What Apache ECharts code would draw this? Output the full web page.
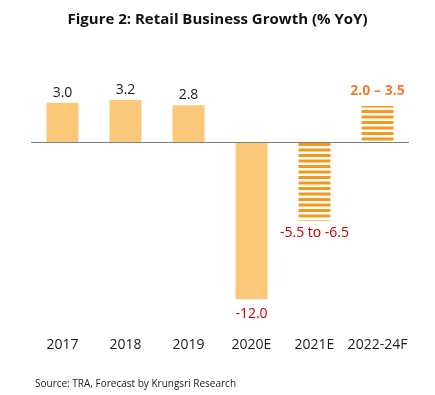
<!DOCTYPE html>
<html>
<head>
<meta charset="utf-8">
<script src="https://cdn.jsdelivr.net/npm/echarts@6/dist/echarts.min.js"></script>
<style>
  html, body { margin: 0; padding: 0; background: #ffffff; }
  #chart { width: 435px; height: 395px; }
</style>
</head>
<body>
<div id="chart"></div>
<script>
const categories = ['2017', '2018', '2019', '2020E', '2021E', '2022-24F'];
const values = [3.0, 3.2, 2.8, -12.0, -6.0, 2.75];
const valueLabels = ['3.0', '3.2', '2.8', '-12.0', '-5.5 to -6.5', '2.0 – 3.5'];
const isForecast = [false, false, false, false, true, true];

const FONT = '"Open Sans", "Noto Sans", sans-serif';

function makeStripes() {
  const c = document.createElement('canvas');
  c.width = 8; c.height = 11;
  const ctx = c.getContext('2d');
  ctx.fillStyle = '#ffffff';
  ctx.fillRect(0, 0, 8, 11);
  ctx.fillStyle = '#F39A1E';
  ctx.fillRect(0, 0, 8, 3);
  ctx.fillRect(0, 5.5, 8, 3);
  return c;
}
const stripePattern = { image: makeStripes(), repeat: 'repeat' };

const labelStyles = [
  { color: '#1a1a1a', fontWeight: 'normal', distance: 3 },
  { color: '#1a1a1a', fontWeight: 'normal', distance: 3 },
  { color: '#1a1a1a', fontWeight: 'normal', distance: 3 },
  { color: '#C00000', fontWeight: 'normal', distance: 8 },
  { color: '#C00000', fontWeight: 'normal', distance: 5 },
  { color: '#ED7D31', fontWeight: 'bold', distance: 8 }
];

const seriesData = values.map((v, i) => ({
  value: v,
  itemStyle: isForecast[i] ? { color: stripePattern } : { color: '#FAC878' },
  label: {
    show: true,
    position: v >= 0 ? 'top' : 'bottom',
    formatter: valueLabels[i],
    color: labelStyles[i].color,
    fontWeight: labelStyles[i].fontWeight,
    distance: labelStyles[i].distance,
    fontSize: 14,
    fontFamily: FONT
  }
}));

const chart = echarts.init(document.getElementById('chart'), null, { renderer: 'canvas' });
chart.setOption({
  animation: false,
  backgroundColor: '#ffffff',
  title: [
    {
      text: 'Figure 2: Retail Business Growth (% YoY)',
      left: 'center',
      top: 7,
      textStyle: { fontFamily: FONT, fontSize: 15, fontWeight: 'bold', color: '#111111' }
    },
    {
      text: 'Source: TRA, Forecast by Krungsri Research',
      left: 30,
      top: 374,
      textStyle: { fontFamily: FONT, fontSize: 10, fontWeight: 'normal', color: '#1a1a1a' }
    }
  ],
  grid: { left: 31, right: 26, top: 63.4, height: 262, containLabel: false },
  xAxis: {
    type: 'category',
    data: categories,
    axisLine: { show: false },
    axisTick: { show: false },
    axisLabel: { color: '#1a1a1a', fontSize: 14, fontFamily: FONT, margin: 13, interval: 0 }
  },
  yAxis: {
    type: 'value',
    min: -14,
    max: 6,
    show: false,
    splitLine: { show: false }
  },
  series: [{
    type: 'bar',
    data: seriesData,
    barWidth: 32,
    markLine: {
      silent: true,
      symbol: 'none',
      label: { show: false },
      lineStyle: { color: '#7f7f7f', width: 1, type: 'solid' },
      data: [{ yAxis: 0 }]
    }
  }]
});
</script>
</body>
</html>
